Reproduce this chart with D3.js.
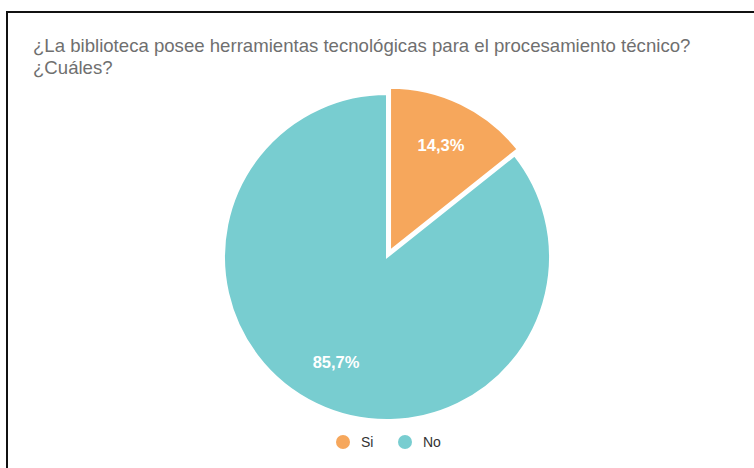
<!DOCTYPE html>
<html>
<head>
  <meta charset="utf-8">
  <script src="https://d3js.org/d3.v7.min.js"></script>
  <style>
    body { margin: 0; padding: 0; background: #fff; }
    svg { display: block; }
  </style>
</head>
<body>
  <script>
    // chart data
    var categories = ["Si", "No"],
      values = [14.3, 85.7],
      labels = ["14,3%", "85,7%"],
      colors = ["#f6a75c", "#78cdd0"];
    var titleLines = ["¿La biblioteca posee herramientas tecnológicas para el procesamiento técnico?", "¿Cuáles?"];

    var width = 754, height = 468;
    var cx = 387, cy = 257, radius = 163;

    var svg = d3.select("body").append("svg")
      .attr("width", width)
      .attr("height", height);

    // frame (left + top edge visible)
    svg.append("rect")
      .attr("x", 7)
      .attr("y", 12)
      .attr("width", width + 10)
      .attr("height", height + 10)
      .attr("fill", "#fff")
      .attr("stroke", "#111")
      .attr("stroke-width", 2);

    svg.append("g")
      .selectAll("text")
      .data(titleLines)
      .enter().append("text")
      .attr("x", 33)
      .attr("y", function (d, i) { return 52 + i * 22; })
      .attr("font-family", "Liberation Sans, Arial, sans-serif")
      .attr("font-size", "18.6px")
      .attr("fill", "#6f6f6f")
      .text(function (d) { return d; });

    var pie = d3.pie().sort(null).value(function (d) { return d; });
    var arcs = pie(values);
    var arc = d3.arc().innerRadius(0).outerRadius(radius);
    var labelArc = d3.arc().innerRadius(radius * 0.72).outerRadius(radius * 0.72);

    var g = svg.append("g").attr("transform", "translate(" + cx + "," + cy + ")");

    // first slice is pulled out a little
    var offset = [7, 0];
    var slices = g.selectAll("g.slice")
      .data(arcs)
      .enter().append("g")
      .attr("class", "slice")
      .attr("transform", function (d, i) {
        var a = (d.startAngle + d.endAngle) / 2, o = offset[i];
        return "translate(" + (Math.sin(a) * o) + "," + (-Math.cos(a) * o) + ")";
      });

    slices.append("path")
      .attr("d", arc)
      .attr("fill", function (d, i) { return colors[i]; })
      .attr("stroke", "#fff")
      .attr("stroke-width", 2);

    slices.append("text")
      .attr("transform", function (d) {
        var c = labelArc.centroid(d);
        return "translate(" + c[0] + "," + c[1] + ")";
      })
      .attr("dy", "0.35em")
      .attr("text-anchor", "middle")
      .attr("font-family", "Liberation Sans, Arial, sans-serif")
      .attr("font-size", "16.5px")
      .attr("font-weight", "bold")
      .attr("fill", "#fff")
      .text(function (d, i) { return labels[i]; });

    // legend
    var legendX = [343, 405];
    var legend = svg.append("g")
      .selectAll("g")
      .data(categories)
      .enter().append("g")
      .attr("transform", function (d, i) { return "translate(" + legendX[i] + ",442)"; });

    legend.append("circle")
      .attr("r", 7)
      .attr("fill", function (d, i) { return colors[i]; });

    legend.append("text")
      .attr("x", 18)
      .attr("dy", "0.35em")
      .attr("font-family", "Liberation Sans, Arial, sans-serif")
      .attr("font-size", "14px")
      .attr("fill", "#333")
      .text(function (d) { return d; });
  </script>
</body>
</html>
